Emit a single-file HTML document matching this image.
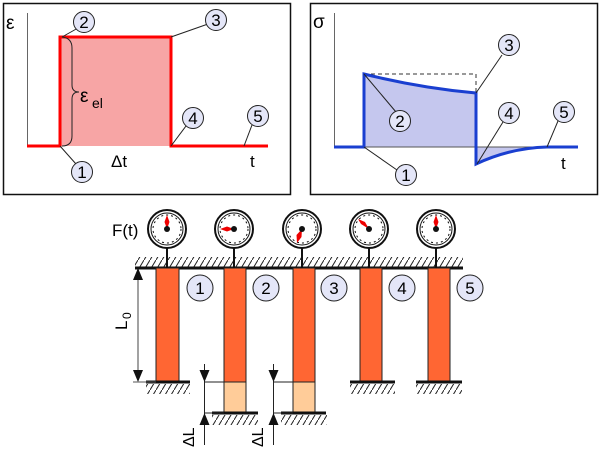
<!DOCTYPE html>
<html><head><style>body{margin:0;background:#fff}svg{display:block}text{font-family:"Liberation Sans",sans-serif}</style></head><body>
<svg width="600" height="452" viewBox="0 0 600 452" xmlns="http://www.w3.org/2000/svg">
<defs>
<pattern id="h" width="6" height="10" patternUnits="userSpaceOnUse"><path d="M0,10 L6,0" stroke="#222" stroke-width="1"/></pattern>
</defs>
<!-- frames -->
<rect x="3.5" y="3.5" width="287" height="191" fill="#fff" stroke="#111" stroke-width="1.5"/>
<rect x="310.5" y="3.5" width="287" height="191" fill="#fff" stroke="#111" stroke-width="1.5"/>
<!-- left plot -->
<line x1="27.5" y1="13" x2="27.5" y2="146" stroke="#666" stroke-width="1"/>
<rect x="60" y="37" width="111" height="109" fill="#f7a5a5"/>
<path d="M27,146 H60 V37 H171 V146 H268" fill="none" stroke="#f00" stroke-width="3"/>
<path d="M62,37 Q72,38 72,48 V85 Q72,92 79,92 Q72,92 72,99 V136 Q72,146 62,146" fill="none" stroke="#222" stroke-width="1"/>
<text x="6" y="29" font-size="19">ε</text>
<text x="80" y="102" font-size="19">ε</text><text x="92" y="108" font-size="14">el</text>
<text x="111" y="167" font-size="17">Δt</text>
<text x="250" y="167" font-size="17">t</text>
<g stroke="#222" stroke-width="1" fill="none">
<line x1="62" y1="37" x2="78" y2="28"/><line x1="171" y1="37" x2="208" y2="24"/>
<line x1="171" y1="146" x2="186" y2="126"/><line x1="244" y1="146" x2="252" y2="125"/>
<line x1="60" y1="146" x2="76" y2="164"/>
</g>
<!-- right plot -->
<line x1="334.5" y1="13" x2="334.5" y2="147" stroke="#666" stroke-width="1"/>
<path d="M364,147 V74 Q420,88 476,93 V147 Z" fill="#c5c7ee"/>
<path d="M476,147 V164 Q510,148 547,147 Z" fill="#c5c7ee"/>
<line x1="334" y1="147" x2="578" y2="147" stroke="#555" stroke-width="1"/>
<path d="M364,74 H476 V93" fill="none" stroke="#333" stroke-width="1" stroke-dasharray="4,3"/>
<path d="M334,147 H364 V74 Q420,88 476,93 V164 Q510,148 547,147 H578" fill="none" stroke="#1a3fd0" stroke-width="3"/>
<text x="313" y="28" font-size="19">σ</text>
<text x="561" y="169" font-size="17">t</text>
<g stroke="#222" stroke-width="1" fill="none">
<line x1="364" y1="74" x2="396" y2="112"/><line x1="476" y1="93" x2="502" y2="55"/>
<line x1="477" y1="164" x2="503" y2="122"/><line x1="547" y1="147" x2="558" y2="121"/>
<line x1="364" y1="147" x2="397" y2="170"/>
</g>
<!-- numbered circles -->
<g font-size="17" text-anchor="middle">
<g fill="#e4e6f8" stroke="#222" stroke-width="1">
<circle cx="84" cy="22" r="10.5"/><circle cx="216" cy="20" r="10.5"/><circle cx="193" cy="118" r="10.5"/><circle cx="258" cy="116" r="10.5"/><circle cx="82" cy="172" r="10.5"/>
<circle cx="509" cy="45" r="10.5"/><circle cx="400" cy="121" r="10.5"/><circle cx="509" cy="113" r="10.5"/><circle cx="564" cy="112" r="10.5"/><circle cx="406" cy="175" r="10.5"/>
<circle cx="200" cy="288" r="13"/><circle cx="266" cy="288" r="13"/><circle cx="334" cy="288" r="13"/><circle cx="402" cy="288" r="13"/><circle cx="470" cy="288" r="13"/>
</g>
<text x="84" y="28">2</text><text x="216" y="26">3</text><text x="193" y="124">4</text><text x="258" y="122">5</text><text x="82" y="178">1</text>
<text x="509" y="51">3</text><text x="400" y="127">2</text><text x="509" y="119">4</text><text x="564" y="118">5</text><text x="406" y="181">1</text>
<text x="200" y="294">1</text><text x="266" y="294">2</text><text x="334" y="294">3</text><text x="402" y="294">4</text><text x="470" y="294">5</text>
</g>
<!-- top support -->
<rect x="135" y="257" width="328" height="10" fill="url(#h)"/>
<line x1="135" y1="268" x2="463" y2="268" stroke="#111" stroke-width="3"/>
<!-- bars -->
<g stroke="#222" stroke-width="1">
<rect x="156" y="268" width="23" height="114" fill="#ff6633"/>
<rect x="224" y="268" width="22" height="114" fill="#ff6633"/>
<rect x="224" y="382" width="22" height="31" fill="#ffcc99"/>
<rect x="293" y="268" width="22" height="114" fill="#ff6633"/>
<rect x="293" y="382" width="22" height="31" fill="#ffcc99"/>
<rect x="360" y="268" width="22" height="114" fill="#ff6633"/>
<rect x="428" y="268" width="22" height="114" fill="#ff6633"/>
</g>
<!-- bottom supports -->
<g>
<rect x="146" y="384" width="44" height="10" fill="url(#h)"/><line x1="146" y1="382" x2="190" y2="382" stroke="#111" stroke-width="3"/>
<rect x="350" y="384" width="45" height="10" fill="url(#h)"/><line x1="350" y1="382" x2="395" y2="382" stroke="#111" stroke-width="3"/>
<rect x="416" y="384" width="46" height="10" fill="url(#h)"/><line x1="416" y1="382" x2="462" y2="382" stroke="#111" stroke-width="3"/>
<rect x="212" y="415" width="46" height="10" fill="url(#h)"/><line x1="212" y1="413" x2="258" y2="413" stroke="#111" stroke-width="3"/>
<rect x="281" y="415" width="46" height="10" fill="url(#h)"/><line x1="281" y1="413" x2="326" y2="413" stroke="#111" stroke-width="3"/>
</g>
<!-- gauges -->
<g id="g">
</g>
<g stroke="#111">
<line x1="167" y1="247" x2="167" y2="268" stroke-width="2"/>
<line x1="234" y1="247" x2="234" y2="268" stroke-width="2"/>
<line x1="302" y1="247" x2="302" y2="268" stroke-width="2"/>
<line x1="369" y1="247" x2="369" y2="268" stroke-width="2"/>
<line x1="436" y1="247" x2="436" y2="268" stroke-width="2"/>
</g>
<g fill="#fff" stroke="#111">
<circle cx="167" cy="229" r="19" stroke-width="2"/><circle cx="167" cy="229" r="14" stroke-dasharray="2,3" stroke-width="1"/><circle cx="167" cy="229" r="16" fill="none" stroke-width="1"/>
<circle cx="234" cy="229" r="19" stroke-width="2"/><circle cx="234" cy="229" r="14" stroke-dasharray="2,3" stroke-width="1"/><circle cx="234" cy="229" r="16" fill="none" stroke-width="1"/>
<circle cx="302" cy="229" r="19" stroke-width="2"/><circle cx="302" cy="229" r="14" stroke-dasharray="2,3" stroke-width="1"/><circle cx="302" cy="229" r="16" fill="none" stroke-width="1"/>
<circle cx="369" cy="229" r="19" stroke-width="2"/><circle cx="369" cy="229" r="14" stroke-dasharray="2,3" stroke-width="1"/><circle cx="369" cy="229" r="16" fill="none" stroke-width="1"/>
<circle cx="436" cy="229" r="19" stroke-width="2"/><circle cx="436" cy="229" r="14" stroke-dasharray="2,3" stroke-width="1"/><circle cx="436" cy="229" r="16" fill="none" stroke-width="1"/>
</g>
<g fill="#e00">
<path d="M167,215 L169.5,222 L167,229 L164.5,222 Z"/>
<path d="M220,229 L227,226.5 L234,229 L227,231.5 Z"/>
<path d="M297,243 L296.5,235 L302,229 L301.5,237 Z"/>
<path d="M358,219 L365,222 L369,229 L361,224 Z"/>
<path d="M436,215 L438.5,222 L436,229 L433.5,222 Z"/>
</g>
<g fill="#111"><circle cx="167" cy="229" r="3"/><circle cx="234" cy="229" r="3"/><circle cx="302" cy="229" r="3"/><circle cx="369" cy="229" r="3"/><circle cx="436" cy="229" r="3"/></g>
<text x="112" y="236" font-size="17">F(t)</text>
<!-- L0 dimension -->
<line x1="138" y1="270" x2="138" y2="380" stroke="#444" stroke-width="1"/>
<path d="M138,268 L133,280 H143 Z M138,382 L133,370 H143 Z" fill="#111"/>
<line x1="133" y1="382" x2="156" y2="382" stroke="#555" stroke-width="1"/>
<text transform="translate(127,330) rotate(-90)" font-size="17">L</text>
<text transform="translate(131,319) rotate(-90)" font-size="12">0</text>
<!-- ΔL dims -->
<g stroke="#222" stroke-width="1">
<line x1="204.5" y1="364" x2="204.5" y2="445"/><line x1="204" y1="382" x2="224" y2="382"/><line x1="204" y1="413" x2="224" y2="413"/>
<line x1="273.5" y1="364" x2="273.5" y2="445"/><line x1="273" y1="382" x2="293" y2="382"/><line x1="273" y1="413" x2="293" y2="413"/>
</g>
<path d="M204.5,382 L199.5,370 H209.5 Z M204.5,413 L199.5,425 H209.5 Z M273.5,382 L268.5,370 H278.5 Z M273.5,413 L268.5,425 H278.5 Z" fill="#111"/>
<text transform="translate(194,447) rotate(-90)" font-size="16">ΔL</text>
<text transform="translate(263,447) rotate(-90)" font-size="16">ΔL</text>
</svg>
</body></html>
